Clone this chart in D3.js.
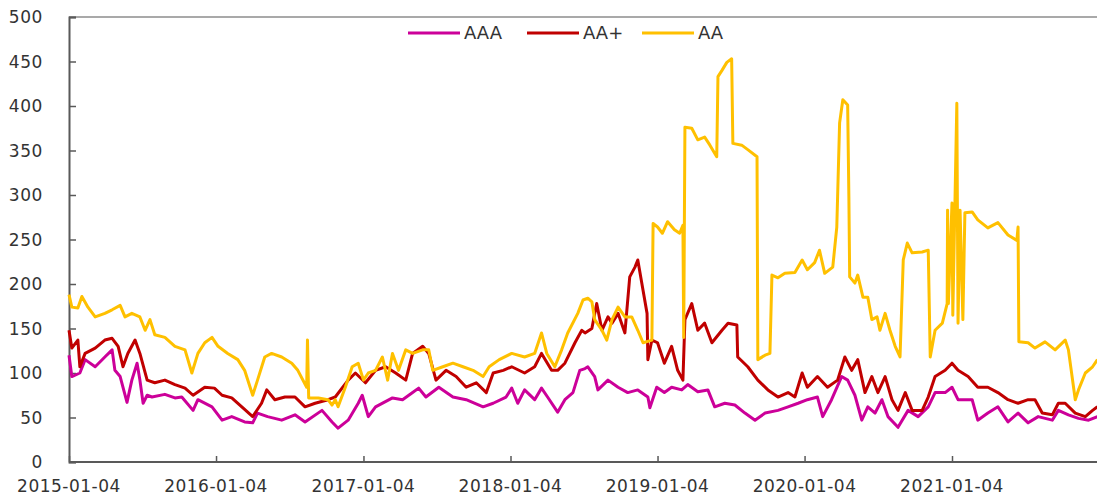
<!DOCTYPE html>
<meta charset="utf-8">
<body style="margin:0;background:#fff">
<style>
  text { font-family: "DejaVu Sans", Verdana, sans-serif; fill: #333; }
  .series { fill: none; stroke-width: 3px; stroke-linejoin: round; }
</style>
<script src="https://d3js.org/d3.v7.min.js"></script>
<script>

var width = 1097,
    height = 500;

var seriesNames = ["AAA", "AA+", "AA"];
var seriesColors = ["#CC0099", "#C00000", "#FFC000"];

var xTickLabels = ["2015-01-04", "2016-01-04", "2017-01-04", "2018-01-04", "2019-01-04", "2020-01-04", "2021-01-04"];
var yTicks = [0, 50, 100, 150, 200, 250, 300, 350, 400, 450, 500];

// AAA
var aaa = [
  ["2015-01-04",120],["2015-01-11",96],["2015-01-31",100],["2015-02-13",115],["2015-03-10",107],
  ["2015-04-03",118],["2015-04-21",126],["2015-04-28",103],["2015-05-11",96],["2015-05-28",67],
  ["2015-06-09",92],["2015-06-22",111],["2015-06-29",92],["2015-07-07",66],["2015-07-17",75],
  ["2015-07-29",73],["2015-08-30",76],["2015-09-24",72],["2015-10-11",73],["2015-11-08",58],
  ["2015-11-20",70],["2015-12-25",62],["2016-01-19",47],["2016-02-12",51],["2016-03-15",45],
  ["2016-04-04",44],["2016-04-16",55],["2016-05-11",51],["2016-06-15",47],["2016-07-18",53],
  ["2016-08-12",45],["2016-09-23",58],["2016-10-18",45],["2016-11-02",38],["2016-11-27",47],
  ["2016-12-22",66],["2017-01-01",75],["2017-01-16",51],["2017-02-03",62],["2017-03-17",72],
  ["2017-04-11",70],["2017-05-06",78],["2017-05-21",83],["2017-06-08",73],["2017-07-10",84],
  ["2017-08-14",73],["2017-09-16",70],["2017-10-28",62],["2017-11-22",66],["2017-12-24",73],
  ["2018-01-07",83],["2018-01-22",66],["2018-02-08",81],["2018-03-05",70],["2018-03-22",83],
  ["2018-04-06",73],["2018-05-01",56],["2018-05-19",70],["2018-06-08",78],["2018-06-25",103],
  ["2018-07-08",105],["2018-07-15",107],["2018-08-01",96],["2018-08-09",81],["2018-09-03",92],
  ["2018-09-28",84],["2018-10-22",78],["2018-11-16",81],["2018-12-11",73],["2018-12-16",61],
  ["2019-01-02",84],["2019-01-21",78],["2019-02-08",84],["2019-03-05",81],["2019-03-20",87],
  ["2019-04-14",79],["2019-05-09",81],["2019-05-26",62],["2019-06-20",66],["2019-07-15",64],
  ["2019-08-09",55],["2019-09-03",47],["2019-09-28",55],["2019-10-30",58],["2019-11-24",62],
  ["2019-12-19",66],["2020-01-11",70],["2020-02-05",73],["2020-02-18",51],["2020-03-11",70],
  ["2020-04-05",96],["2020-04-20",92],["2020-05-08",75],["2020-05-25",47],["2020-06-09",62],
  ["2020-06-27",55],["2020-07-14",70],["2020-07-29",51],["2020-08-23",39],["2020-09-17",58],
  ["2020-10-12",51],["2020-11-06",62],["2020-11-23",78],["2020-12-18",78],["2021-01-04",84],
  ["2021-01-19",70],["2021-02-23",70],["2021-03-09",47],["2021-04-03",55],["2021-04-28",62],
  ["2021-05-23",45],["2021-06-17",55],["2021-07-12",44],["2021-08-06",51],["2021-09-10",47],
  ["2021-09-25",58],["2021-10-20",53],["2021-11-14",49],["2021-12-09",47],["2021-12-31",51]
];

// AA+
var aaPlus = [
  ["2015-01-04",148],["2015-01-11",128],["2015-01-26",137],["2015-01-31",107],["2015-02-13",122],
  ["2015-03-10",128],["2015-04-03",137],["2015-04-21",139],["2015-05-06",130],["2015-05-18",107],
  ["2015-05-30",122],["2015-06-17",137],["2015-06-29",122],["2015-07-17",92],["2015-08-05",89],
  ["2015-08-30",92],["2015-09-24",87],["2015-10-19",83],["2015-11-08",75],["2015-12-07",84],
  ["2015-12-31",83],["2016-01-19",75],["2016-02-12",72],["2016-03-08",62],["2016-04-04",51],
  ["2016-04-26",66],["2016-05-09",81],["2016-05-29",70],["2016-06-23",73],["2016-07-18",73],
  ["2016-08-12",62],["2016-09-06",66],["2016-10-08",70],["2016-10-26",73],["2016-11-27",92],
  ["2016-12-15",100],["2017-01-09",89],["2017-02-03",103],["2017-02-28",107],["2017-03-25",100],
  ["2017-04-19",92],["2017-05-06",122],["2017-05-31",130],["2017-06-15",122],["2017-07-03",92],
  ["2017-07-28",103],["2017-08-22",96],["2017-09-16",84],["2017-10-11",89],["2017-11-05",78],
  ["2017-11-22",100],["2017-12-17",103],["2018-01-07",107],["2018-02-08",100],["2018-03-05",107],
  ["2018-03-22",122],["2018-04-16",103],["2018-05-01",103],["2018-05-19",111],["2018-06-13",134],
  ["2018-06-30",148],["2018-07-08",145],["2018-07-25",150],["2018-08-06",178],["2018-08-19",148],
  ["2018-09-03",163],["2018-09-13",156],["2018-09-28",167],["2018-10-15",145],["2018-10-27",208],
  ["2018-11-09",219],["2018-11-16",227],["2018-11-29",193],["2018-12-09",167],["2018-12-11",115],
  ["2018-12-21",137],["2019-01-04",134],["2019-01-21",111],["2019-02-08",130],["2019-02-23",103],
  ["2019-03-08",92],["2019-03-13",160],["2019-03-30",178],["2019-04-14",148],["2019-05-01",156],
  ["2019-05-19",134],["2019-06-13",148],["2019-06-28",156],["2019-07-20",154],["2019-07-22",118],
  ["2019-08-16",107],["2019-09-10",92],["2019-10-05",81],["2019-10-30",73],["2019-11-24",78],
  ["2019-12-11",73],["2019-12-29",100],["2020-01-11",84],["2020-02-05",96],["2020-03-01",84],
  ["2020-03-26",92],["2020-04-13",118],["2020-04-30",103],["2020-05-15",115],["2020-06-02",78],
  ["2020-06-19",96],["2020-07-04",78],["2020-07-22",96],["2020-08-08",70],["2020-08-23",58],
  ["2020-09-10",78],["2020-09-27",58],["2020-10-22",58],["2020-11-06",73],["2020-11-23",96],
  ["2020-12-18",103],["2021-01-04",111],["2021-01-19",103],["2021-02-13",96],["2021-03-09",84],
  ["2021-04-03",84],["2021-04-28",78],["2021-05-23",70],["2021-06-17",66],["2021-07-12",70],
  ["2021-07-29",70],["2021-08-16",55],["2021-09-10",53],["2021-09-25",66],["2021-10-12",66],
  ["2021-11-06",55],["2021-12-01",51],["2021-12-19",58],["2021-12-31",62]
];

// AA
var aa = [
  ["2015-01-04",188],["2015-01-11",174],["2015-01-26",173],["2015-02-05",186],["2015-02-20",174],
  ["2015-03-10",163],["2015-04-03",167],["2015-04-21",171],["2015-05-11",176],["2015-05-23",163],
  ["2015-06-09",167],["2015-06-29",163],["2015-07-12",148],["2015-07-24",160],["2015-08-05",143],
  ["2015-08-30",140],["2015-09-24",130],["2015-10-19",126],["2015-11-05",100],["2015-11-20",122],
  ["2015-12-07",134],["2015-12-25",140],["2016-01-09",130],["2016-02-02",122],["2016-02-27",115],
  ["2016-03-15",103],["2016-04-04",75],["2016-04-16",92],["2016-05-04",118],["2016-05-21",122],
  ["2016-06-15",118],["2016-07-10",111],["2016-07-25",103],["2016-08-16",84],["2016-08-18",137],
  ["2016-08-21",72],["2016-09-14",72],["2016-10-08",70],["2016-10-18",64],["2016-10-26",70],
  ["2016-11-02",62],["2016-11-20",84],["2016-12-07",107],["2016-12-22",111],["2017-01-04",92],
  ["2017-01-16",100],["2017-02-03",103],["2017-02-20",118],["2017-03-05",92],["2017-03-17",122],
  ["2017-04-01",103],["2017-04-19",126],["2017-05-06",122],["2017-05-31",126],["2017-06-15",126],
  ["2017-06-25",103],["2017-07-20",107],["2017-08-14",111],["2017-09-08",107],["2017-10-03",103],
  ["2017-10-28",96],["2017-11-12",107],["2017-12-07",115],["2018-01-07",122],["2018-02-08",118],
  ["2018-03-05",122],["2018-03-22",145],["2018-04-04",122],["2018-04-24",107],["2018-05-11",126],
  ["2018-05-26",145],["2018-06-20",167],["2018-07-03",182],["2018-07-15",184],["2018-07-25",180],
  ["2018-08-01",160],["2018-08-19",148],["2018-08-31",137],["2018-09-13",160],["2018-09-28",174],
  ["2018-10-15",163],["2018-11-01",163],["2018-11-16",148],["2018-11-29",134],["2018-12-21",137],
  ["2018-12-24",268],["2019-01-04",264],["2019-01-16",257],["2019-01-29",270],["2019-02-15",261],
  ["2019-02-28",257],["2019-03-08",266],["2019-03-10",140],["2019-03-13",376],["2019-03-30",375],
  ["2019-04-14",362],["2019-05-01",365],["2019-05-14",356],["2019-05-31",343],["2019-06-03",433],
  ["2019-06-13",440],["2019-06-25",449],["2019-07-07",453],["2019-07-10",358],["2019-08-01",356],
  ["2019-08-16",351],["2019-09-08",343],["2019-09-10",115],["2019-09-28",120],["2019-10-10",122],
  ["2019-10-15",210],["2019-10-30",207],["2019-11-16",212],["2019-12-11",213],["2019-12-29",227],
  ["2020-01-11",216],["2020-01-29",224],["2020-02-10",238],["2020-02-23",212],["2020-03-14",219],
  ["2020-03-24",264],["2020-03-31",381],["2020-04-08",407],["2020-04-20",401],["2020-04-23",298],
  ["2020-04-25",208],["2020-05-08",201],["2020-05-15",210],["2020-05-28",185],["2020-06-09",185],
  ["2020-06-19",160],["2020-07-02",163],["2020-07-09",148],["2020-07-22",167],["2020-08-03",148],
  ["2020-08-16",130],["2020-08-28",118],["2020-09-05",227],["2020-09-15",246],["2020-09-27",235],
  ["2020-10-22",236],["2020-11-06",238],["2020-11-11",118],["2020-11-23",148],["2020-12-11",156],
  ["2020-12-23",178],["2020-12-24",283],["2020-12-26",178],["2021-01-04",291],["2021-01-06",165],
  ["2021-01-16",403],["2021-01-19",156],["2021-01-24",283],["2021-01-31",160],["2021-02-05",280],
  ["2021-02-23",281],["2021-03-09",272],["2021-04-03",263],["2021-04-28",269],["2021-05-23",255],
  ["2021-06-14",249],["2021-06-17",264],["2021-06-19",135],["2021-07-12",134],["2021-07-29",128],
  ["2021-08-23",135],["2021-09-17",126],["2021-10-12",137],["2021-10-20",126],["2021-11-06",70],
  ["2021-11-14",81],["2021-12-01",100],["2021-12-19",107],["2021-12-31",115]
];

var parse = d3.timeParse("%Y-%m-%d");

var x = d3.scaleTime()
  .domain([parse("2015-01-04"), parse("2021-01-04")])
  .range([69, 952]);

var y = d3.scaleLinear()
  .domain([0, 500])
  .range([462, 17]);

var svg = d3.select("body").append("svg")
  .attr("width", width)
  .attr("height", height);

// top frame line
svg.append("line")
  .attr("x1", x.range()[0]).attr("x2", width)
  .attr("y1", y(500)).attr("y2", y(500))
  .attr("stroke", "#8c8c8c").attr("stroke-width", 1.5);

// y axis
var yAxis = svg.append("g")
  .attr("transform", "translate(" + x.range()[0] + ",0)")
  .call(d3.axisRight(y).tickValues(yTicks).tickSize(7).tickFormat(""));
yAxis.select(".domain").attr("stroke", "#595959").attr("stroke-width", 2);
yAxis.selectAll(".tick line").attr("stroke", "#595959").attr("stroke-width", 1.5);

svg.append("g").selectAll("text")
  .data(yTicks)
  .enter().append("text")
  .attr("x", 43)
  .attr("y", function(d) { return y(d); })
  .attr("dy", "0.36em")
  .attr("text-anchor", "end")
  .style("font-size", "17px")
  .style("letter-spacing", "0.6px")
  .text(function(d) { return d; });

// x axis
var xDates = xTickLabels.map(parse);
var xAxis = svg.append("g")
  .attr("transform", "translate(0," + y(0) + ")")
  .call(d3.axisTop(x).tickValues(xDates).tickSize(6).tickFormat(""));
xAxis.select(".domain").attr("d", "M" + x.range()[0] + ",0H" + width)
  .attr("stroke", "#595959").attr("stroke-width", 2);
xAxis.selectAll(".tick line").attr("stroke", "#595959").attr("stroke-width", 1.5);

svg.append("g").selectAll("text")
  .data(xTickLabels)
  .enter().append("text")
  .attr("x", function(d) { return x(parse(d)); })
  .attr("y", 492)
  .attr("text-anchor", "middle")
  .style("font-size", "17px")
  .style("letter-spacing", "0.5px")
  .text(function(d) { return d; });

// series lines
var line = d3.line()
  .x(function(d) { return x(parse(d[0])); })
  .y(function(d) { return y(d[1]); });

var allSeries = [aaa, aaPlus, aa];

svg.append("g").selectAll("path")
  .data(allSeries)
  .enter().append("path")
  .attr("class", "series")
  .attr("stroke", function(d, i) { return seriesColors[i]; })
  .attr("d", line);

// legend
var legendX = [408, 527, 642];
var legend = svg.append("g").selectAll("g")
  .data(seriesNames)
  .enter().append("g")
  .attr("transform", function(d, i) { return "translate(" + legendX[i] + ",33)"; });

legend.append("line")
  .attr("x1", 0).attr("x2", 52)
  .attr("stroke", function(d, i) { return seriesColors[i]; })
  .attr("stroke-width", 3);

legend.append("text")
  .attr("x", 56)
  .attr("dy", "0.36em")
  .style("font-size", "18px")
  .text(function(d) { return d; });

</script>
</body>
